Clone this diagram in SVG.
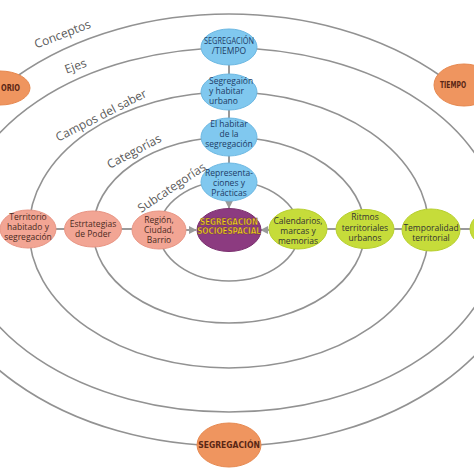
<svg xmlns="http://www.w3.org/2000/svg" width="474" height="474" viewBox="0 0 474 474">
<defs>
<style>
.ring{fill:none;stroke:#929292;stroke-width:1.6}
.con{stroke:#9a9a9a;stroke-width:2;fill:none}
.lbl{font-family:"Open Sans","Noto Sans",sans-serif;font-size:12px;fill:#5a5a5a}
.t{font-family:"Open Sans","Noto Sans",sans-serif;font-size:8.5px;text-anchor:middle}
.blue{fill:#80c8ef;stroke:#6db8e2;stroke-width:1}
.bt{fill:#1d3c66}
.sal{fill:#f2a594;stroke:#e89584;stroke-width:1}
.st{fill:#4a2a22}
.grn{fill:#c6dc3a;stroke:#b7cf2e;stroke-width:1}
.gt{fill:#333}
.org{fill:#ef955f;stroke:#e6884f;stroke-width:1}
.ot{font-family:"DejaVu Sans Condensed","Liberation Sans",sans-serif;font-weight:bold;font-size:8.5px;fill:#5a2614;text-anchor:middle}
.pur{fill:#8c3b80;stroke:#7a2f6e;stroke-width:1}
.pt{font-family:"DejaVu Sans Condensed","Liberation Sans",sans-serif;font-weight:bold;font-size:8px;fill:#f6d21c;text-anchor:middle;stroke:#5a2a3a;stroke-width:0.3}
</style>
<marker id="arr" viewBox="0 0 10 10" refX="9" refY="5" markerWidth="4" markerHeight="4" orient="auto">
<path d="M0,0 L10,5 L0,10 z" fill="#9a9a9a"/>
</marker>
</defs>
<rect width="474" height="474" fill="#ffffff"/>
<g id="rings">
<ellipse class="ring" cx="229" cy="231" rx="70" ry="50"/>
<ellipse class="ring" cx="229" cy="230" rx="136" ry="93"/>
<ellipse class="ring" cx="229" cy="230" rx="200" ry="138"/>
<ellipse class="ring" cx="229" cy="230" rx="271" ry="182"/>
<ellipse class="ring" cx="229" cy="230" rx="302" ry="216"/>
</g>
<g id="ring-labels">
<text class="lbl" transform="translate(64,38) rotate(-21)" text-anchor="middle">Conceptos</text>
<text class="lbl" transform="translate(77,70) rotate(-20)" text-anchor="middle">Ejes</text>
<text class="lbl" transform="translate(103,119) rotate(-27)" text-anchor="middle">Campos del saber</text>
<text class="lbl" transform="translate(136,155) rotate(-28)" text-anchor="middle">Categorías</text>
<text class="lbl" transform="translate(174,191) rotate(-34)" text-anchor="middle">Subcategorías</text>
</g>
<g id="connectors">
<line class="con" x1="229" y1="65" x2="229" y2="74"/>
<line class="con" x1="229" y1="110" x2="229" y2="119"/>
<line class="con" x1="229" y1="155" x2="229" y2="164"/>
<line class="con" x1="229" y1="201" x2="229" y2="208" marker-end="url(#arr)"/>
<line class="con" x1="56" y1="229" x2="65" y2="229"/>
<line class="con" x1="121" y1="229" x2="132" y2="229"/>
<line class="con" x1="186" y1="230" x2="196" y2="230" marker-end="url(#arr)"/>
<line class="con" x1="270" y1="230" x2="261" y2="230" marker-end="url(#arr)"/>
<line class="con" x1="327" y1="229" x2="336" y2="229"/>
<line class="con" x1="394" y1="229" x2="402" y2="229"/>
<line class="con" x1="460" y1="229" x2="470" y2="229"/>
</g>
<g id="n-tiempo-seg">
<ellipse class="blue" cx="229" cy="47" rx="28" ry="18"/>
<text class="t bt" x="229" y="44" font-size="7" textLength="50" lengthAdjust="spacingAndGlyphs">SEGREGACIÓN</text>
<text class="t bt" x="229" y="54" font-size="7">/TIEMPO</text>
</g>
<g id="n-habitar-urbano">
<ellipse class="blue" cx="229" cy="92" rx="28" ry="18"/>
<text class="t bt" x="209" y="84" style="text-anchor:start" font-size="8">Segregaión</text>
<text class="t bt" x="209" y="94" style="text-anchor:start" font-size="8">y habitar</text>
<text class="t bt" x="209" y="104" style="text-anchor:start" font-size="8">urbano</text>
</g>
<g id="n-habitar-seg">
<ellipse class="blue" cx="229" cy="137" rx="28" ry="19"/>
<text class="t bt" x="229" y="127">El habitar</text>
<text class="t bt" x="229" y="137">de la</text>
<text class="t bt" x="229" y="147">segregación</text>
</g>
<g id="n-representaciones">
<ellipse class="blue" cx="229" cy="182" rx="28" ry="19"/>
<text class="t bt" x="229" y="176">Representa-</text>
<text class="t bt" x="229" y="186">ciones y</text>
<text class="t bt" x="229" y="196">Prácticas</text>
</g>
<g id="n-socioespacial">
<ellipse class="pur" cx="229" cy="230" rx="32" ry="21.5"/>
<text class="pt" x="229" y="225">SEGREGACION</text>
<text class="pt" x="229" y="234">SOCIOESPACIAL</text>
</g>
<g id="n-territorio-hab">
<ellipse class="sal" cx="28" cy="229" rx="28" ry="19"/>
<text class="t st" x="28" y="220">Territorio</text>
<text class="t st" x="28" y="230">habitado y</text>
<text class="t st" x="28" y="240">segregación</text>
</g>
<g id="n-estrategias">
<ellipse class="sal" cx="93" cy="229" rx="28.5" ry="18"/>
<text class="t st" x="93" y="227">Estrtategias</text>
<text class="t st" x="93" y="237">de Poder</text>
</g>
<g id="n-region">
<ellipse class="sal" cx="159" cy="230" rx="27" ry="19"/>
<text class="t st" x="159" y="223">Región,</text>
<text class="t st" x="159" y="233">Ciudad,</text>
<text class="t st" x="159" y="243">Barrio</text>
</g>
<g id="n-calendarios">
<ellipse class="grn" cx="298" cy="229" rx="29" ry="20"/>
<text class="t gt" x="298" y="224">Calendarios,</text>
<text class="t gt" x="298" y="234">marcas y</text>
<text class="t gt" x="298" y="244">memorias</text>
</g>
<g id="n-ritmos">
<ellipse class="grn" cx="365" cy="229" rx="29" ry="19.5"/>
<text class="t gt" x="365" y="220">Ritmos</text>
<text class="t gt" x="365" y="231">territoriales</text>
<text class="t gt" x="365" y="241">urbanos</text>
</g>
<g id="n-temporalidad">
<ellipse class="grn" cx="431" cy="230" rx="29" ry="21"/>
<text class="t gt" x="431" y="231">Temporalidad</text>
<text class="t gt" x="431" y="241">territorial</text>
</g>
<g id="n-right-green">
<ellipse class="grn" cx="500" cy="229" rx="30" ry="20"/>
</g>
<g id="n-territorio">
<ellipse class="org" cx="0" cy="88" rx="30" ry="17"/>
<text class="ot" x="1" y="91" style="text-anchor:start" textLength="19" lengthAdjust="spacingAndGlyphs">ORIO</text>
</g>
<g id="n-tiempo">
<ellipse class="org" cx="464" cy="85" rx="30" ry="21"/>
<text class="ot" x="440" y="88" style="text-anchor:start" font-size="7.5" textLength="26" lengthAdjust="spacingAndGlyphs">TIEMPO</text>
</g>
<g id="n-segregacion">
<ellipse class="org" cx="229" cy="445" rx="32" ry="22"/>
<text class="ot" x="229" y="448">SEGREGACIÓN</text>
</g>
</svg>
